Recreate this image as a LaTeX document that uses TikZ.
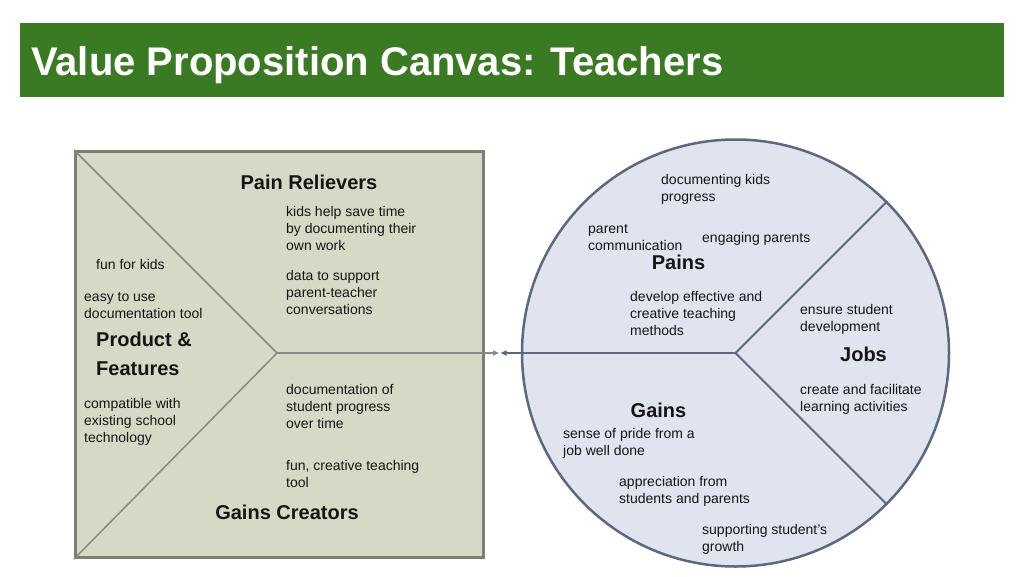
\documentclass[tikz,border=0pt]{standalone}
\usepackage{fontspec}
\setmainfont{Liberation Sans}
\usetikzlibrary{arrows.meta}
\definecolor{titlegreen}{HTML}{3A7A22}
\definecolor{sqfill}{HTML}{D8D8C7}
\definecolor{sqline}{HTML}{7E7E72}
\definecolor{sqinner}{HTML}{8A8A82}
\definecolor{cfill}{HTML}{DFE4EE}
\definecolor{cline}{HTML}{5C6880}
\definecolor{ctext}{HTML}{151515}
\begin{document}
\begin{tikzpicture}[x=1pt,y=-1pt,
  body/.style={font=\fontsize{14}{17}\selectfont, align=left, inner sep=0pt, anchor=north west, text=ctext},
  head/.style={font=\fontsize{20}{29}\selectfont\bfseries, inner sep=0pt, anchor=base, text=ctext},
  headml/.style={font=\fontsize{20}{29}\selectfont\bfseries, align=left, inner sep=0pt, anchor=north west, text=ctext},
  tip/.style={-{Triangle[length=6pt,width=5pt]}}]
\useasboundingbox (0,0) rectangle (1024,576);
% title bar
\node[fill=titlegreen, minimum width=984pt, minimum height=74pt, inner sep=0pt, anchor=north west] (bar) at (20,23) {};
\node[anchor=base west, text=white, font=\fontsize{40}{48}\selectfont\bfseries, inner sep=0pt] (title) at (31,75) {Value Proposition Canvas: Teachers};
% square
\node[draw=sqline, line width=3pt, fill=sqfill, minimum width=408pt, minimum height=406pt, anchor=north west, inner sep=0pt] (sq) at (74,150) {};
\coordinate (v) at (277,353);
\draw[sqinner, line width=1.5pt] (sq.north west) -- (v) -- (sq.south west);
% circle
\node[circle, draw=cline, line width=2.5pt, fill=cfill, minimum size=427pt, inner sep=0pt] (C) at (735.5,353) {};
\draw[cline, line width=2pt] (C.45) -- (C.center) -- (C.-45);
% connectors
\coordinate (la) at (499,353);
\coordinate (ra) at (500.5,353);
\draw[sqinner, line width=1.8pt, tip] (v) -- (la);
\draw[cline, line width=2pt, tip] (C.center) -- (ra);
% square texts
\node[head] (pr) at (309,189) {Pain Relievers};
\node[head] (gc) at (287,519) {Gains Creators};
\node[headml] (pf) at (96,326) {\strut Product \&\\Features};
\node[body] (b1) at (286,204) {\strut kids help save time\\by documenting their\\own work};
\node[body] (b2) at (286,268) {\strut data to support\\parent-teacher\\conversations};
\node[body] (b3) at (96,257) {\strut fun for kids};
\node[body] (b4) at (84,289) {\strut easy to use\\documentation tool};
\node[body] (b5) at (84,396) {\strut compatible with\\existing school\\technology};
\node[body] (b6) at (286,382) {\strut documentation of\\student progress\\over time};
\node[body] (b7) at (286,458) {\strut fun, creative teaching\\tool};
% circle texts
\node[head] (pains) at (678.5,269) {Pains};
\node[head] (jobs) at (863.5,361) {Jobs};
\node[head] (gains) at (658.5,417) {Gains};
\node[body] (c1) at (661,172) {\strut documenting kids\\progress};
\node[body] (c2) at (588,221) {\strut parent\\communication};
\node[body] (c3) at (702,230) {\strut engaging parents};
\node[body] (c4) at (630,289) {\strut develop effective and\\creative teaching\\methods};
\node[body] (c5) at (800,302) {\strut ensure student\\development};
\node[body] (c6) at (800,382) {\strut create and facilitate\\learning activities};
\node[body] (c7) at (563,426) {\strut sense of pride from a\\job well done};
\node[body] (c8) at (619,474) {\strut appreciation from\\students and parents};
\node[body] (c9) at (702,522) {\strut supporting student’s\\growth};
\end{tikzpicture}
\end{document}
